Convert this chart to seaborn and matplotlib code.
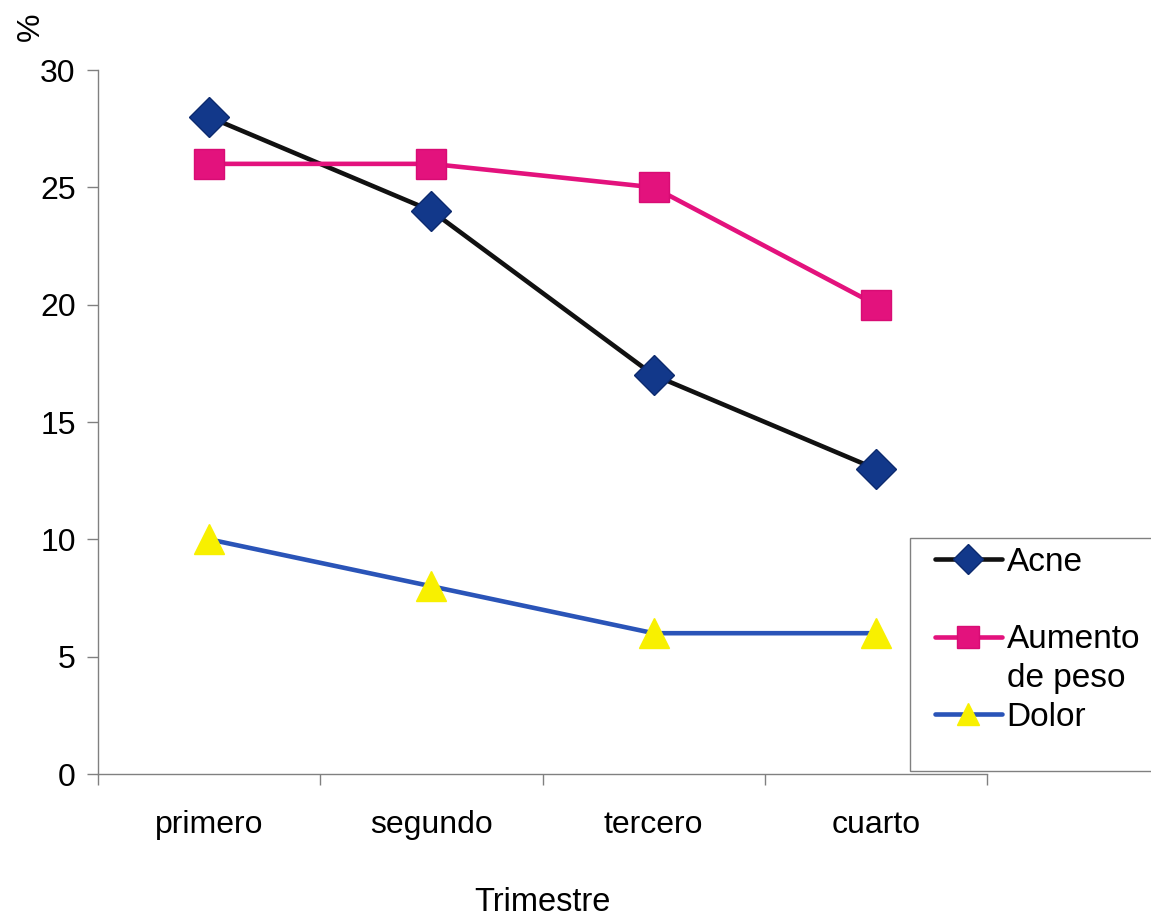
import matplotlib
matplotlib.use("Agg")
import matplotlib.pyplot as plt
from matplotlib.lines import Line2D
from matplotlib.patches import Rectangle
import seaborn as sns
import pandas as pd

# Quarterly side-effect percentages
trimestres = ["primero", "segundo", "tercero", "cuarto"]
acne = [28, 24, 17, 13]
aumento_peso = [26, 26, 25, 20]
dolor = [10, 8, 6, 6]

sns.set_style("white")
plt.rcParams["font.family"] = ["Liberation Sans", "DejaVu Sans"]
plt.rcParams["text.color"] = "black"
plt.rcParams["axes.labelcolor"] = "black"
plt.rcParams["xtick.labelcolor"] = "black"
plt.rcParams["ytick.labelcolor"] = "black"

W, H = 1151, 918
fig = plt.figure(figsize=(W / 100, H / 100), dpi=100)
ax = fig.add_axes([98 / W, 1 - 774 / H, (987 - 98) / W, (774 - 70) / H])

df = pd.DataFrame({"Trimestre": trimestres, "Acne": acne,
                   "Aumento de peso": aumento_peso, "Dolor": dolor})

styles = {
    "Acne": dict(color="#111111", marker="D", markersize=20,
                 markerfacecolor="#12388a", markeredgecolor="#0c2a6e"),
    "Aumento de peso": dict(color="#e3127d", marker="s", markersize=21,
                            markerfacecolor="#e3127d", markeredgecolor="#d80c74"),
    "Dolor": dict(color="#2a54b8", marker="^", markersize=22,
                  markerfacecolor="#f8f000", markeredgecolor="#f8f000"),
}

for name, st in styles.items():
    sns.lineplot(data=df, x="Trimestre", y=name, ax=ax, linewidth=3.3,
                 markeredgewidth=1, **st)

ax.set_xlim(-0.5, 3.5)
ax.set_ylim(0, 30)
ax.set_yticks([0, 5, 10, 15, 20, 25, 30])
ax.set_xticks([-0.5, 0.5, 1.5, 2.5, 3.5])
ax.set_xticklabels([])
ax.set_xticks(range(len(trimestres)), minor=True)
ax.set_xticklabels(trimestres, minor=True)
ax.tick_params(axis="x", which="minor", length=0, pad=26, labelsize=23)
ax.tick_params(axis="x", which="major", length=8, width=1, color="#808080", direction="out")
ax.tick_params(axis="y", length=8, width=1, color="#808080", direction="out",
               pad=8, labelsize=23)
ax.tick_params(bottom=True, left=True)

for side in ("top", "right"):
    ax.spines[side].set_visible(False)
for side in ("left", "bottom"):
    ax.spines[side].set_color("#808080")
    ax.spines[side].set_linewidth(1)

ax.set_ylabel("")
ax.set_xlabel("Trimestre", fontsize=23.5, labelpad=34)
fig.text(31 / W, 1 - 27 / H, "%", rotation=90, ha="center", va="center", fontsize=23)

# Legend box, running past the right edge of the figure
fig.patches.append(Rectangle((910 / W, 1 - 771 / H), 320 / W, (771 - 538) / H,
                             transform=fig.transFigure, facecolor="white",
                             edgecolor="#808080", linewidth=1, zorder=3))

# Legend: the two-line label keeps its marker on the first line
def handle(name):
    return Line2D([], [], linewidth=3.3, markeredgewidth=1, **styles[name])

blank = Line2D([], [], linestyle="none", marker=None)
handles = [handle("Acne"), blank, handle("Aumento de peso"), blank, handle("Dolor")]
labels = ["Acne", " ", "Aumento", "de peso", "Dolor"]
leg = fig.legend(handles, labels, loc="upper left",
                 bbox_to_anchor=(935 / W, 1 - 547 / H),
                 fontsize=24, frameon=False, handlelength=2.0, handletextpad=0.15,
                 labelspacing=0.23, borderpad=0, borderaxespad=0,
                 markerscale=0.75)
leg.set_zorder(4)

fig.savefig("out.png", dpi=100, facecolor="white")
